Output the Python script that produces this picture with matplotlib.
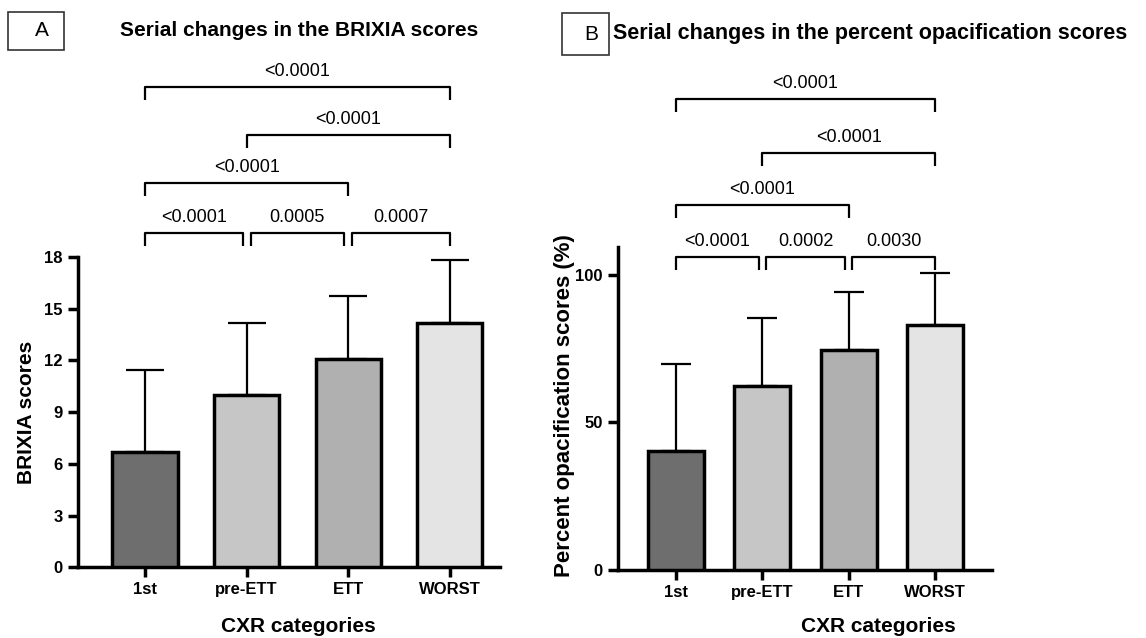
import numpy as np
import matplotlib
matplotlib.use('Agg')
import matplotlib.pyplot as plt
from matplotlib.patches import Rectangle

plt.rcParams['font.family'] = ['Liberation Sans', 'DejaVu Sans']

categories = ['1st', 'pre-ETT', 'ETT', 'WORST']
bar_colors = ['#6e6e6e', '#c6c6c6', '#b0b0b0', '#e4e4e4']

brixia_mean = [6.7, 10.0, 12.1, 14.2]
brixia_sd = [4.75, 4.15, 3.65, 3.65]
brixia_pairs = [(0, 1), (1, 2), (2, 3), (0, 2), (1, 3), (0, 3)]
brixia_p = ['<0.0001', '0.0005', '0.0007', '<0.0001', '<0.0001', '<0.0001']

opac_mean = [40.4, 62.4, 74.6, 82.9]
opac_sd = [29.4, 23.0, 19.5, 17.7]
opac_pairs = [(0, 1), (1, 2), (2, 3), (0, 2), (1, 3), (0, 3)]
opac_p = ['<0.0001', '0.0002', '0.0030', '<0.0001', '<0.0001', '<0.0001']

W, H = 1146, 638


def draw_panel(ax, means, sds, pairs, pvals, levels, tick_h, width, cap):
    x = np.arange(len(categories))
    ax.bar(x, means, width=width, color=bar_colors, edgecolor='black',
           linewidth=2.5, zorder=3)
    ax.errorbar(x, means, yerr=[np.zeros(len(sds)), sds], fmt='none',
                ecolor='black', elinewidth=1.6, capsize=cap, capthick=1.6, zorder=2)
    ax.set_xticks(x)
    ax.set_xticklabels(categories, fontweight='bold', fontsize=12)
    for lab in ax.get_yticklabels():
        lab.set_fontweight('bold')
        lab.set_fontsize(12)
    ax.tick_params(axis='both', direction='out', length=7, width=2.5, pad=4)
    for s in ['top', 'right']:
        ax.spines[s].set_visible(False)
    for s in ['left', 'bottom']:
        ax.spines[s].set_linewidth(2.5)

    # significance brackets
    for (a, b), p, lev in zip(pairs, pvals, levels):
        x0, x1 = a, b
        if b - a == 1:
            if a > 0:
                x0 = a + 0.04
            if b < len(categories) - 1:
                x1 = b - 0.04
        ax.plot([x0, x0, x1, x1], [lev - tick_h, lev, lev, lev - tick_h],
                color='black', lw=1.6, clip_on=False, solid_capstyle='butt')
        ax.annotate(p, xy=((x0 + x1) / 2, lev), xytext=(0, 5),
                    textcoords='offset points', ha='center', va='bottom',
                    fontsize=13, annotation_clip=False)


fig = plt.figure(figsize=(11.46, 6.38), dpi=100)

axA = fig.add_axes([0.068, 0.111, 0.368, 0.486])
axA.set_ylim(0, 18)
axA.set_xlim(-0.66, 3.49)
axA.set_yticks([0, 3, 6, 9, 12, 15, 18])
draw_panel(axA, brixia_mean, brixia_sd, brixia_pairs, brixia_p,
           [19.4, 19.4, 19.4, 22.3, 25.1, 27.9], 0.76, 0.64, 13.5)
axA.set_ylabel('BRIXIA scores', fontweight='bold', fontsize=15)
axA.yaxis.set_label_coords((36 - 78) / 422, 0.5)

axB = fig.add_axes([0.539, 0.107, 0.327, 0.506])
axB.set_ylim(0, 109.5)
axB.set_xlim(-0.67, 3.66)
axB.set_yticks([0, 50, 100])
draw_panel(axB, opac_mean, opac_sd, opac_pairs, opac_p,
           [106.1, 106.1, 106.1, 123.7, 141.4, 159.7], 4.4, 0.65, 11)
axB.set_ylabel('Percent opacification scores (%)', fontweight='bold', fontsize=16)
axB.yaxis.set_label_coords((575 - 618) / 375, 0.51)

# x axis titles
fig.text(298 / W, 1 - 627 / H, 'CXR categories', ha='center', va='center',
         fontsize=15, fontweight='bold')
fig.text(878 / W, 1 - 627 / H, 'CXR categories', ha='center', va='center',
         fontsize=15, fontweight='bold')

# panel letters and titles
fig.patches.append(Rectangle((8 / W, 1 - 50 / H), 56 / W, 38 / H,
                             transform=fig.transFigure, fill=False,
                             edgecolor='#333333', lw=1.2))
fig.text(42 / W, 1 - 31 / H, 'A', ha='center', va='center', fontsize=15)
fig.text(299 / W, 1 - 31 / H, 'Serial changes in the BRIXIA scores',
         ha='center', va='center', fontsize=15, fontweight='bold')

fig.patches.append(Rectangle((562 / W, 1 - 55 / H), 47 / W, 42 / H,
                             transform=fig.transFigure, fill=False,
                             edgecolor='#333333', lw=1.2))
fig.text(591 / W, 1 - 34 / H, 'B', ha='center', va='center', fontsize=15)
fig.text(613 / W, 1 - 34 / H, 'Serial changes in the percent opacification scores',
         ha='left', va='center', fontsize=15.5, fontweight='bold')

fig.savefig('out.png', dpi=100)
